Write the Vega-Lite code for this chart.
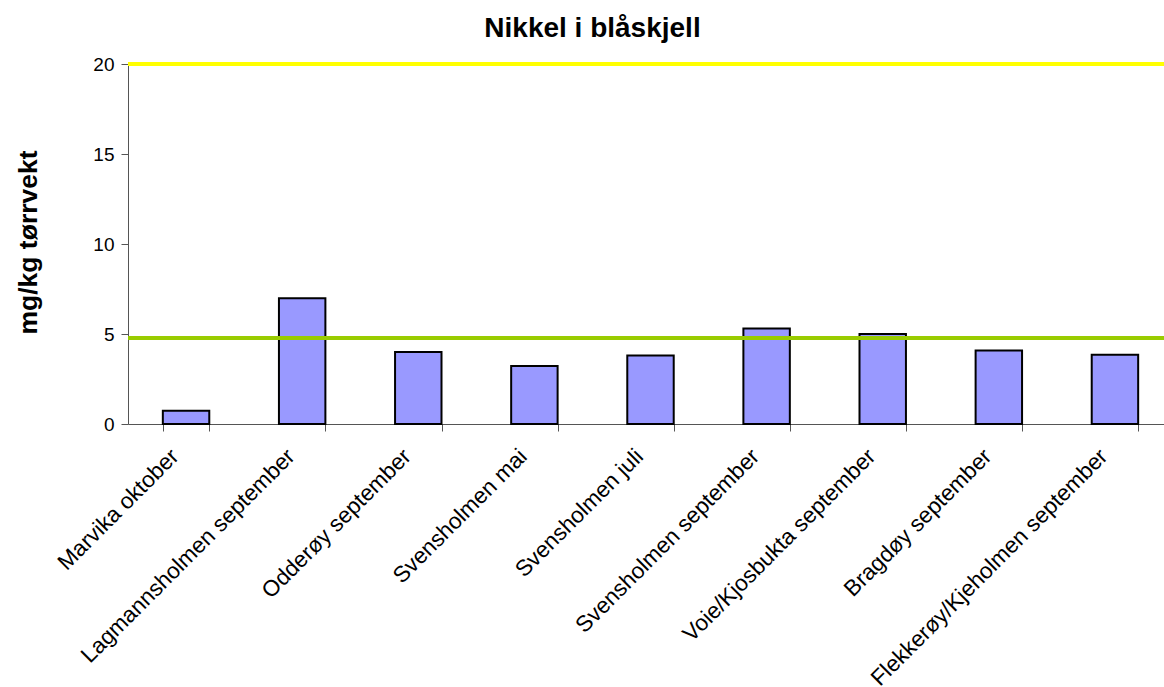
{
  "$schema": "https://vega.github.io/schema/vega-lite/v6.json",
  "autosize": "none",
  "width": 1045,
  "height": 360,
  "padding": {"left": 128, "top": 64, "right": -9, "bottom": 263},
  "background": "white",
  "config": {
    "font": "Liberation Sans",
    "view": {"stroke": null}
  },
  "title": {
    "text": "Nikkel i blåskjell",
    "fontSize": 28,
    "fontWeight": "bold",
    "font": "Liberation Sans",
    "color": "black",
    "anchor": "middle",
    "dx": -58,
    "offset": 12
  },
  "datasets": {
    "bars": [
      {"stasjon": "Marvika oktober", "nikkel": 0.74},
      {"stasjon": "Lagmannsholmen september", "nikkel": 6.98},
      {"stasjon": "Odderøy september", "nikkel": 4.0},
      {"stasjon": "Svensholmen mai", "nikkel": 3.22},
      {"stasjon": "Svensholmen juli", "nikkel": 3.8},
      {"stasjon": "Svensholmen september", "nikkel": 5.31},
      {"stasjon": "Voie/Kjosbukta september", "nikkel": 5.0},
      {"stasjon": "Bragdøy september", "nikkel": 4.09},
      {"stasjon": "Flekkerøy/Kjeholmen september", "nikkel": 3.85}
    ],
    "lines": [
      {"grense": "øvre", "verdi": 20},
      {"grense": "nedre", "verdi": 4.78}
    ]
  },
  "layer": [
    {
      "data": {"name": "bars"},
      "mark": {"type": "bar", "color": "#9999FF", "stroke": "black", "strokeWidth": 2},
      "encoding": {
        "x": {
          "field": "stasjon",
          "type": "nominal",
          "sort": null,
          "scale": {"paddingInner": 0.6, "paddingOuter": 0.3},
          "axis": {
            "title": null,
            "labelAngle": -45,
            "labelAlign": "right",
            "labelBaseline": "bottom",
            "labelFontSize": 22.5,
            "labelColor": "black",
            "labelPadding": 30,
            "labelOffset": -3,
            "labelLimit": 500,
            "tickBand": "extent",
            "tickSize": 7,
            "tickColor": "#555555",
            "domainColor": "#555555",
            "labelOverlap": false
          }
        },
        "y": {
          "field": "nikkel",
          "type": "quantitative",
          "scale": {"domain": [0, 20], "nice": false},
          "axis": {
            "title": "mg/kg tørrvekt",
            "titleFontSize": 26.5,
            "titleFontWeight": "bold",
            "titleColor": "black",
            "titleX": -100,
            "titleY": 178,
            "titleAngle": -90,
            "titleAlign": "center",
            "titleBaseline": "middle",
            "values": [0, 5, 10, 15, 20],
            "grid": false,
            "labelFontSize": 19,
            "labelColor": "black",
            "labelPadding": 7,
            "tickSize": 7,
            "tickColor": "#555555",
            "domainColor": "#555555"
          }
        }
      }
    },
    {
      "data": {"name": "lines"},
      "mark": {"type": "rule", "strokeWidth": 4},
      "encoding": {
        "y": {"field": "verdi", "type": "quantitative"},
        "color": {
          "field": "grense",
          "type": "nominal",
          "scale": {"domain": ["øvre", "nedre"], "range": ["#FFFF00", "#99CC00"]},
          "legend": null
        }
      }
    }
  ]
}
